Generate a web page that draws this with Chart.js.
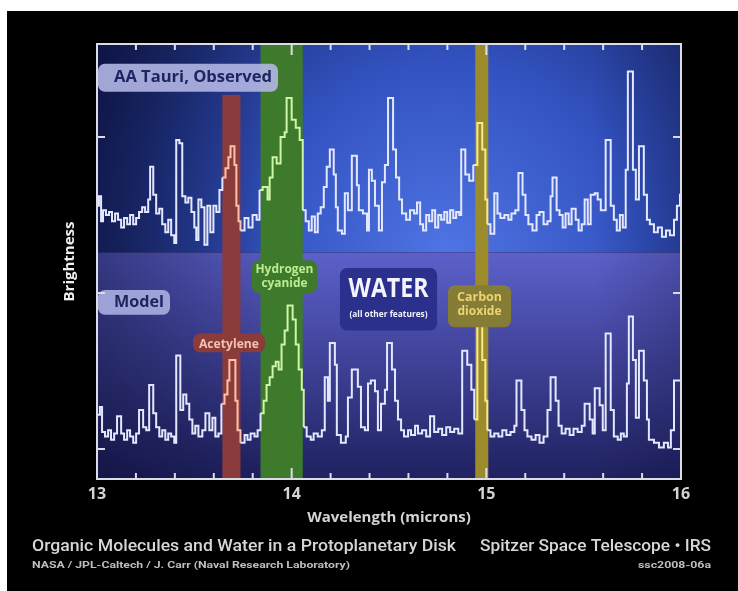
<!DOCTYPE html>
<html>
<head>
<meta charset="utf-8">
<script src="https://cdn.jsdelivr.net/npm/chart.js@4.4.1/dist/chart.umd.min.js"></script>
<style>
    html, body { margin: 0; padding: 0; background: #ffffff; }
    canvas { display: block; }
</style>
</head>
<body>
<canvas id="spectrumChart" width="738" height="591"></canvas>
<script>
// AA Tauri observed spectrum (step levels, each starts at its wavelength)
const obsWavelength = [13.000,13.010,13.021,13.031,13.046,13.062,13.077,13.093,13.108,13.124,
    13.139,13.155,13.170,13.186,13.201,13.216,13.232,13.247,13.263,13.273,
    13.289,13.304,13.320,13.335,13.351,13.366,13.381,13.397,13.407,13.423,
    13.438,13.454,13.469,13.485,13.500,13.510,13.521,13.536,13.552,13.567,
    13.582,13.598,13.613,13.629,13.644,13.660,13.675,13.686,13.706,13.716,
    13.727,13.737,13.758,13.778,13.799,13.820,13.835,13.851,13.876,13.887,
    13.902,13.923,13.943,13.964,13.974,14.000,14.021,14.041,14.057,14.072,
    14.088,14.103,14.119,14.134,14.149,14.165,14.180,14.196,14.216,14.227,
    14.237,14.258,14.273,14.289,14.309,14.335,14.345,14.366,14.387,14.397,
    14.412,14.428,14.448,14.464,14.479,14.495,14.521,14.536,14.552,14.567,
    14.588,14.608,14.629,14.644,14.660,14.675,14.691,14.706,14.722,14.737,
    14.753,14.768,14.784,14.799,14.814,14.830,14.845,14.861,14.871,14.892,
    14.912,14.933,14.954,14.979,14.995,15.005,15.021,15.041,15.057,15.072,
    15.093,15.113,15.129,15.149,15.165,15.186,15.201,15.216,15.237,15.258,
    15.273,15.294,15.314,15.330,15.340,15.361,15.376,15.392,15.407,15.423,
    15.438,15.459,15.474,15.490,15.505,15.521,15.536,15.557,15.572,15.588,
    15.613,15.639,15.655,15.670,15.686,15.701,15.716,15.727,15.753,15.768,
    15.784,15.809,15.825,15.840,15.861,15.881,15.902,15.923,15.943,15.964,
    15.979,15.995,16.000];
const obsBrightness = [15.6,16.2,14.6,15.3,15.0,15.2,14.6,15.1,14.7,14.2,
    14.8,14.4,15.0,14.4,14.8,15.2,15.5,15.2,16.0,18.1,
    16.3,15.1,15.4,14.4,13.9,14.7,13.7,13.2,19.8,19.6,
    16.2,15.8,16.1,15.2,14.2,13.4,16.0,15.5,13.1,15.6,
    13.9,15.6,15.2,16.6,17.4,18.0,18.7,19.4,18.2,15.6,
    14.6,14.0,14.8,14.2,15.0,14.7,16.6,16.8,16.0,17.4,
    18.7,18.3,20.0,20.3,22.5,21.1,20.6,19.8,15.3,14.6,
    14.0,14.9,13.9,15.1,15.5,16.8,18.1,19.2,17.6,15.5,
    14.0,13.8,16.4,15.3,18.8,16.9,15.3,15.1,14.0,17.9,
    17.2,15.6,14.0,17.1,18.2,22.5,19.2,17.4,16.0,15.1,
    14.7,15.3,15.1,15.8,14.4,14.0,15.0,14.6,15.3,14.2,
    15.0,14.7,15.2,14.5,15.3,14.8,15.2,15.0,19.2,17.6,
    17.2,18.2,20.9,19.2,16.0,14.4,13.8,16.4,15.1,14.8,
    15.0,14.7,15.1,15.3,17.7,16.3,15.0,14.4,14.0,15.0,
    15.2,14.4,14.6,16.2,17.4,15.3,15.0,14.2,15.1,14.4,
    15.4,14.7,14.0,14.4,16.0,14.4,16.3,16.4,16.0,15.3,
    19.8,15.6,14.7,14.0,15.0,14.2,17.9,24.2,17.9,16.0,
    19.4,16.3,14.7,14.4,13.9,14.2,13.6,14.0,13.7,14.7,
    15.6,16.3,16.3];

// model spectrum
const modelWavelength = [13.000,13.015,13.026,13.041,13.057,13.072,13.088,13.103,13.124,13.139,
    13.155,13.170,13.186,13.201,13.216,13.237,13.253,13.268,13.289,13.304,
    13.320,13.335,13.351,13.366,13.381,13.397,13.407,13.428,13.443,13.459,
    13.474,13.490,13.505,13.521,13.541,13.557,13.577,13.593,13.608,13.624,
    13.639,13.655,13.670,13.680,13.711,13.722,13.737,13.758,13.773,13.789,
    13.809,13.825,13.840,13.856,13.871,13.887,13.902,13.918,13.933,13.948,
    13.964,13.979,14.005,14.021,14.036,14.052,14.062,14.077,14.098,14.113,
    14.134,14.155,14.170,14.186,14.196,14.222,14.232,14.253,14.278,14.289,
    14.309,14.340,14.356,14.376,14.392,14.407,14.428,14.443,14.459,14.479,
    14.490,14.515,14.531,14.546,14.562,14.577,14.598,14.613,14.634,14.649,
    14.670,14.691,14.711,14.732,14.753,14.773,14.794,14.814,14.835,14.856,
    14.876,14.902,14.923,14.938,14.954,14.979,14.995,15.005,15.021,15.041,
    15.062,15.082,15.103,15.124,15.144,15.155,15.180,15.196,15.211,15.232,
    15.253,15.273,15.294,15.314,15.330,15.356,15.371,15.387,15.407,15.428,
    15.448,15.469,15.490,15.505,15.531,15.546,15.557,15.582,15.598,15.613,
    15.639,15.655,15.675,15.691,15.706,15.722,15.732,15.753,15.768,15.784,
    15.809,15.825,15.835,15.861,15.887,15.912,15.933,15.948,15.964,16.000];
const modelBrightness = [2.2,2.7,1.1,0.8,1.2,0.6,1.0,2.1,1.0,0.6,
    1.2,0.8,0.4,1.0,2.5,1.4,1.2,4.1,2.3,1.4,
    0.8,1.2,0.6,1.0,0.8,0.4,6.0,2.5,3.5,2.9,
    1.9,1.0,1.5,0.8,1.2,2.3,1.2,2.0,0.8,1.0,
    2.9,3.5,4.4,5.7,3.1,1.2,0.4,0.9,0.6,1.0,
    0.8,1.2,2.3,3.1,4.1,4.6,5.3,5.6,5.1,6.7,
    7.6,9.2,8.3,6.7,5.1,3.8,1.4,0.8,0.6,1.0,
    0.8,1.2,4.6,3.1,6.8,5.4,0.9,0.4,0.8,3.3,
    5.1,4.0,1.4,1.2,4.2,4.4,3.7,1.2,2.9,3.8,
    6.8,5.1,3.1,1.9,1.2,0.8,1.2,0.9,1.5,1.0,
    1.2,0.8,2.1,1.1,1.3,0.9,1.4,1.1,1.3,1.0,
    6.3,5.4,3.8,1.9,7.9,5.7,3.1,1.2,0.8,1.0,
    0.8,1.2,0.9,1.1,1.5,4.4,2.5,1.2,0.8,0.6,
    0.9,0.4,0.8,2.5,4.6,3.1,1.5,1.0,1.3,0.9,
    1.3,1.1,1.5,2.9,1.9,1.0,3.9,2.8,1.2,7.4,
    2.5,0.8,0.6,1.0,0.8,4.2,8.5,5.7,2.0,6.3,
    4.4,1.9,0.6,0.4,0.1,0.4,0.1,1.2,4.4,4.4];

// molecule bands (microns); red band stops short of the top
const bandNames = ['Acetylene', 'Hydrogen cyanide', 'Carbon dioxide'];
const bandStart = [13.644, 13.840, 14.943];
const bandEnd = [13.737, 14.057, 15.010];
const bandTop = [22.7, null, null];

const xMajorTicks = [13, 14, 15, 16];
const yTicks = [0, 10, 20];
const panelSplit = 12.6;   // brightness level where the two panels meet

const bandFill = ['#8a3b3c', '#3d7a2c', '#9c8b2b'];
const bandTint = ['#ffc2a6', '#cff5a6', '#f7ea8c'];
const lineColour = '#e4e8ff';

// text boxes placed in data units
const callouts = [
    { x0: 13.005, x1: 13.930, y0: 24.7, y1: 22.9, fill: 'rgba(178,182,228,0.9)', colour: '#1d2660', align: 'left',
      lines: [{ text: 'AA Tauri, Observed', y: 23.8, width: 158, size: 16 }] },
    { x0: 13.005, x1: 13.375, y0: 10.2, y1: 8.6, fill: 'rgba(170,174,224,0.9)', colour: '#1d2660', align: 'left',
      lines: [{ text: 'Model', y: 9.4, width: 50, size: 16 }] },
    { x0: 13.796, x1: 14.130, y0: 12.1, y1: 10.0, fill: '#3e7a2c', colour: '#bdeb92', align: 'center',
      lines: [{ text: 'Hydrogen', y: 11.5, width: 58, size: 12 }, { text: 'cyanide', y: 10.6, width: 46, size: 12 }] },
    { x0: 14.248, x1: 14.747, y0: 11.6, y1: 7.6, fill: '#2b308c', colour: '#f4f4ff', align: 'center',
      lines: [{ text: 'WATER', y: 10.2, width: 80, size: 26 }, { text: '(all other features)', y: 8.6, width: 78, size: 8 }] },
    { x0: 14.803, x1: 15.127, y0: 10.5, y1: 7.8, fill: '#857d36', colour: '#ecd470', align: 'center',
      lines: [{ text: 'Carbon', y: 9.7, width: 45, size: 12 }, { text: 'dioxide', y: 8.8, width: 44, size: 12 }] },
    { x0: 13.493, x1: 13.863, y0: 7.4, y1: 6.2, fill: '#8b3c3a', colour: '#f4c2b2', align: 'center',
      lines: [{ text: 'Acetylene', y: 6.7, width: 60, size: 12 }] },
];

function toPoints(xs, ys) {
    return xs.map((x, i) => ({ x: x, y: ys[i] }));
}

function tintSegment(c) {
    const mid = (c.p0.parsed.x + c.p1.parsed.x) / 2;
    for (let i = 0; i < bandStart.length; i++) {
        if (mid >= bandStart[i] && mid <= bandEnd[i]) return bandTint[i];
    }
    return undefined;
}

// draw text squeezed/stretched to a given width
function fitText(ctx, text, x, y, width, align) {
    const w = ctx.measureText(text).width;
    ctx.save();
    ctx.translate(x, y);
    ctx.scale(width / w, 1);
    ctx.textAlign = align;
    ctx.fillText(text, 0, 0);
    ctx.restore();
}

const backdropPlugin = {
    id: 'backdrop',
    beforeDraw(chart) {
        const { ctx, chartArea: a, scales: { x, y } } = chart;
        ctx.save();
        ctx.fillStyle = '#ffffff';
        ctx.fillRect(0, 0, chart.width, chart.height);
        ctx.fillStyle = '#000000';
        ctx.fillRect(7, 11, chart.width - 7, chart.height - 11);

        const split = y.getPixelForValue(panelSplit);
        const cx = a.left + a.width * 0.6;
        let g = ctx.createRadialGradient(cx, split, 0, cx, split, a.width * 0.72);
        g.addColorStop(0, '#5074e4');
        g.addColorStop(0.45, '#3252c0');
        g.addColorStop(1, '#131b52');
        ctx.fillStyle = g;
        ctx.fillRect(a.left, a.top, a.width, split - a.top);

        g = ctx.createLinearGradient(0, split, 0, a.bottom);
        g.addColorStop(0, '#5d60ca');
        g.addColorStop(1, '#1f2160');
        ctx.fillStyle = g;
        ctx.fillRect(a.left, split, a.width, a.bottom - split);

        g = ctx.createLinearGradient(a.left, 0, a.right, 0);
        g.addColorStop(0, 'rgba(6,8,40,0.45)');
        g.addColorStop(0.35, 'rgba(6,8,40,0)');
        g.addColorStop(0.85, 'rgba(6,8,40,0)');
        g.addColorStop(1, 'rgba(6,8,40,0.2)');
        ctx.fillStyle = g;
        ctx.fillRect(a.left, a.top, a.width, a.height);

        bandStart.forEach((start, i) => {
            const left = x.getPixelForValue(start);
            const right = x.getPixelForValue(bandEnd[i]);
            const top = bandTop[i] === null ? a.top : y.getPixelForValue(bandTop[i]);
            ctx.fillStyle = bandFill[i];
            ctx.fillRect(left, top, right - left, a.bottom - top);
        });
        ctx.restore();
    },
    afterDatasetsDraw(chart) {
        const { ctx, chartArea: a, scales: { x, y } } = chart;
        ctx.save();

        // callout boxes
        callouts.forEach(c => {
            const left = x.getPixelForValue(c.x0);
            const right = x.getPixelForValue(c.x1);
            const top = y.getPixelForValue(c.y0);
            const bottom = y.getPixelForValue(c.y1);
            ctx.fillStyle = c.fill;
            ctx.beginPath();
            ctx.roundRect(left, top, right - left, bottom - top, 7);
            ctx.fill();
            ctx.fillStyle = c.colour;
            ctx.textBaseline = 'middle';
            c.lines.forEach(l => {
                ctx.font = 'bold ' + l.size + 'px "Open Sans", sans-serif';
                const tx = c.align === 'left' ? left + 16 : (left + right) / 2;
                fitText(ctx, l.text, tx, y.getPixelForValue(l.y), l.width, c.align);
            });
        });

        // frame and inward ticks
        ctx.strokeStyle = '#dcdce6';
        ctx.lineWidth = 2;
        ctx.strokeRect(a.left, a.top, a.width, a.height);
        ctx.beginPath();
        x.ticks.forEach(t => {
            const px = x.getPixelForValue(t.value);
            const len = xMajorTicks.includes(Math.round(t.value * 10) / 10) ? 11 : 6;
            ctx.moveTo(px, a.top);
            ctx.lineTo(px, a.top + len);
            ctx.moveTo(px, a.bottom);
            ctx.lineTo(px, a.bottom - len);
        });
        y.ticks.forEach(t => {
            const py = y.getPixelForValue(t.value);
            ctx.moveTo(a.left, py);
            ctx.lineTo(a.left + 8, py);
            ctx.moveTo(a.right, py);
            ctx.lineTo(a.right - 8, py);
        });
        ctx.stroke();
        ctx.restore();
    },
    afterDraw(chart) {
        const { ctx } = chart;
        ctx.save();
        ctx.textBaseline = 'middle';
        ctx.fillStyle = '#d6d6d6';
        ctx.font = '500 17px Roboto, sans-serif';
        fitText(ctx, 'Organic Molecules and Water in a Protoplanetary Disk', 32, 547, 424, 'left');
        fitText(ctx, 'Spitzer Space Telescope \u2022 IRS', 711, 547, 231, 'right');
        ctx.fillStyle = '#bdbdbd';
        ctx.font = 'bold 9px Roboto, sans-serif';
        fitText(ctx, 'NASA / JPL-Caltech / J. Carr (Naval Research Laboratory)', 32, 566, 318, 'left');
        fitText(ctx, 'ssc2008-06a', 711, 566, 73, 'right');
        ctx.restore();
    }
};

const ctx = document.getElementById('spectrumChart').getContext('2d');

new Chart(ctx, {
    type: 'line',
    data: {
        datasets: [{
            label: 'AA Tauri, Observed',
            data: toPoints(obsWavelength, obsBrightness),
            stepped: true,
            borderColor: lineColour,
            borderWidth: 2,
            pointRadius: 0,
            fill: false,
            segment: { borderColor: tintSegment },
        }, {
            label: 'Model',
            data: toPoints(modelWavelength, modelBrightness),
            stepped: true,
            borderColor: lineColour,
            borderWidth: 2,
            pointRadius: 0,
            fill: false,
            segment: { borderColor: tintSegment },
        }],
    },
    options: {
        responsive: false,
        animation: false,
        layout: { padding: { left: 61, right: 57, top: 44, bottom: 64 } },
        plugins: {
            legend: { display: false },
            tooltip: { enabled: false },
        },
        scales: {
            x: {
                type: 'linear',
                min: 13,
                max: 16,
                afterFit: scale => { scale.height = 48; },
                grid: { display: false, drawTicks: false },
                border: { display: false },
                ticks: {
                    stepSize: 0.2,
                    autoSkip: false,
                    maxRotation: 0,
                    padding: 6,
                    color: '#d4d4d8',
                    font: { family: 'Open Sans', size: 16, weight: 'bold' },
                    callback: v => xMajorTicks.includes(Math.round(v * 10) / 10) ? String(Math.round(v)) : '',
                },
                title: {
                    display: true,
                    text: 'Wavelength (microns)',
                    color: '#d4d4d8',
                    font: { family: 'Open Sans', size: 15, weight: 'bold' },
                    padding: 0,
                },
            },
            y: {
                type: 'linear',
                min: -1.92,
                max: 25.96,
                afterBuildTicks: scale => { scale.ticks = yTicks.map(v => ({ value: v })); },
                afterFit: scale => { scale.width = 36; },
                grid: { display: false, drawTicks: false },
                border: { display: false },
                ticks: { display: false },
                title: {
                    display: true,
                    text: 'Brightness',
                    color: '#f0f0f4',
                    font: { family: 'Open Sans', size: 15, weight: 'bold' },
                    padding: 0,
                },
            },
        },
    },
    plugins: [backdropPlugin],
});
</script>
</body>
</html>
